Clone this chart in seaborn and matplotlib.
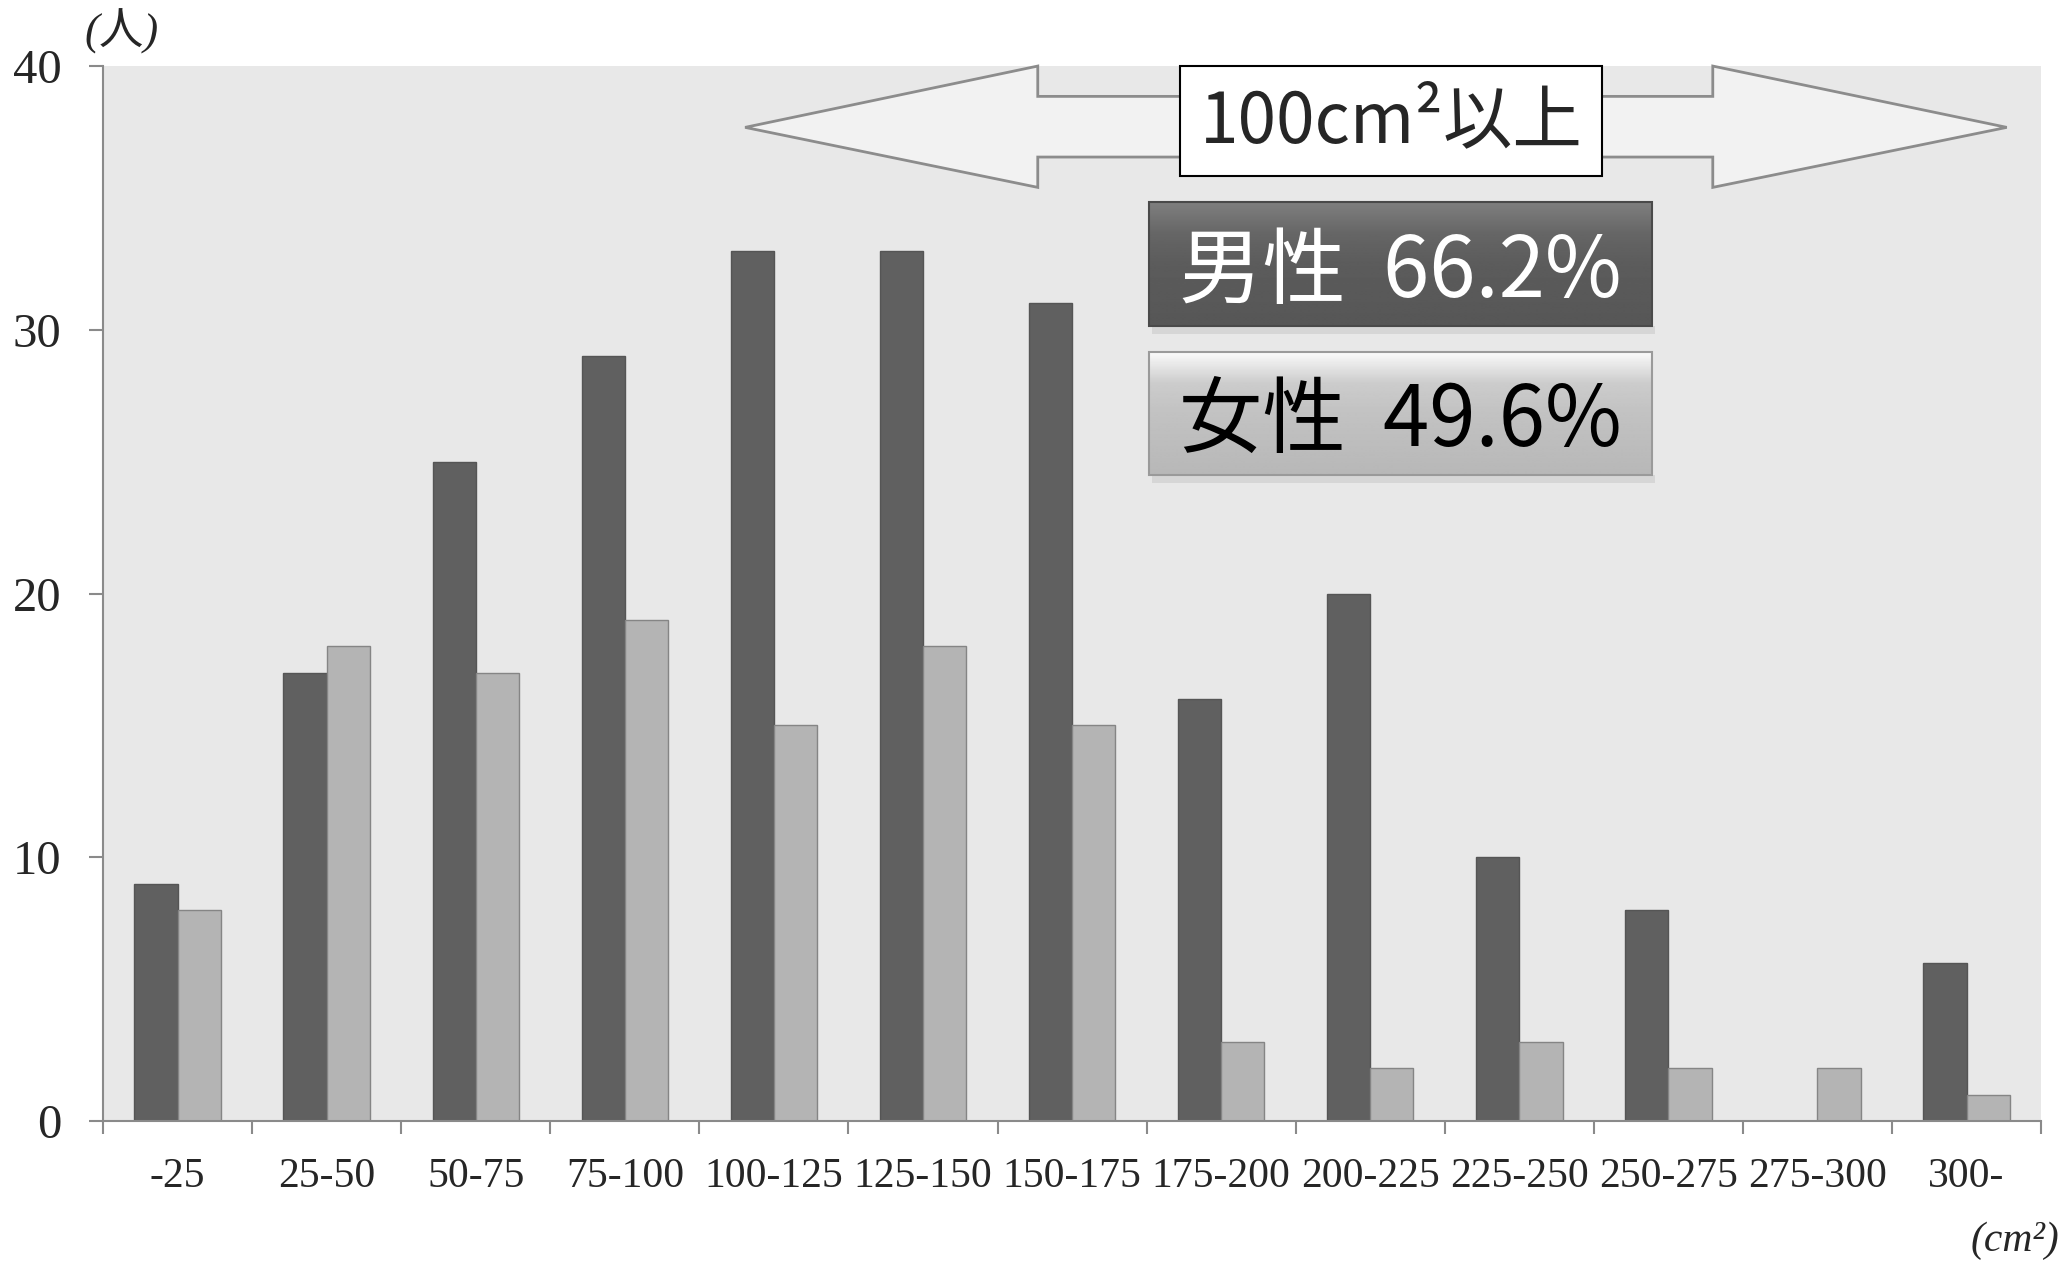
import numpy as np
import pandas as pd
import matplotlib.pyplot as plt
import seaborn as sns
from matplotlib.patches import Polygon, Rectangle
from matplotlib.ticker import FixedLocator

# data
categories = ['-25', '25-50', '50-75', '75-100', '100-125', '125-150', '150-175',
              '175-200', '200-225', '225-250', '250-275', '275-300', '300-']
male = [9, 17, 25, 29, 33, 33, 31, 16, 20, 10, 8, 0, 6]
female = [8, 18, 17, 19, 15, 18, 15, 3, 2, 3, 2, 2, 1]
y_ticks = [0, 10, 20, 30, 40]
banner_text = '100cm²以上'
male_text = '男性  66.2%'
female_text = '女性  49.6%'

df = pd.DataFrame({
    'cat': categories * 2,
    'count': male + female,
    'sex': ['男性'] * len(categories) + ['女性'] * len(categories),
})

sns.set_theme(style='white', rc={'axes.facecolor': '#e8e8e8'})
plt.rcParams['font.family'] = ['Liberation Serif', 'Noto Sans CJK JP', 'DejaVu Sans']

fig = plt.figure(figsize=(20.65, 12.63), dpi=100)
ax = fig.add_axes([0.0499, 0.1124, 0.9385, 0.8353])

sns.barplot(data=df, x='cat', y='count', hue='sex', order=categories,
            palette={'男性': '#606060', '女性': '#b4b4b4'}, width=0.58,
            edgecolor='#555555', linewidth=1, legend=False, ax=ax, zorder=2)
# lighter edge for the female bars
for patch in ax.containers[1]:
    patch.set_edgecolor('#858585')

ax.set_xlim(-0.5, len(categories) - 0.5)
ax.set_ylim(0, 40)
ax.set_yticks(y_ticks)
ax.set_xlabel('')
ax.set_ylabel('')

for side in ['top', 'right']:
    ax.spines[side].set_visible(False)
for side in ['left', 'bottom']:
    ax.spines[side].set_color('#8a8a8a')
    ax.spines[side].set_linewidth(1.5)

ax.tick_params(axis='y', which='major', length=10, width=1.5, color='#8a8a8a',
               direction='out', labelsize=35, pad=20, left=True)
ax.tick_params(axis='x', which='major', length=0, labelsize=30, pad=26)
ax.xaxis.set_minor_locator(FixedLocator(np.arange(-0.5, len(categories), 1.0)))
ax.tick_params(axis='x', which='minor', length=9, width=1.5, color='#8a8a8a',
               direction='out', bottom=True)

# double arrow
arrow = Polygon([(3.807, 37.675), (5.77, 40), (5.77, 38.85), (10.298, 38.85),
                 (10.298, 40), (12.27, 37.675), (10.298, 35.4), (10.298, 36.55),
                 (5.77, 36.55), (5.77, 35.4)], closed=True,
                facecolor='#f2f2f2', edgecolor='#8c8c8c', linewidth=2,
                zorder=3, clip_on=False)
ax.add_patch(arrow)

ax.add_patch(Rectangle((6.725, 35.85), 2.83, 4.15, facecolor='white',
                       edgecolor='black', linewidth=1.5, zorder=4, clip_on=False))
ax.text(8.14, 37.85, banner_text, ha='center', va='center', fontsize=50,
        family=['Noto Sans CJK JP', 'DejaVu Sans'], zorder=5)


def gradient_box(x0, x1, y0, y1, stops, edge):
    grad = np.interp(np.linspace(0, 1, 100), np.linspace(0, 1, len(stops)), stops)
    ax.imshow(grad.reshape(-1, 1), cmap='gray', vmin=0, vmax=1, aspect='auto',
              extent=(x0, x1, y0, y1), zorder=4, interpolation='bilinear')
    # soft shadow below
    ax.add_patch(Rectangle((x0 + 0.02, y0 - 0.3), x1 - x0, 0.3,
                           facecolor='#d6d6d6', edgecolor='none', zorder=3))
    ax.add_patch(Rectangle((x0, y0), x1 - x0, y1 - y0, facecolor='none',
                           edgecolor=edge, linewidth=1.5, zorder=5))


gradient_box(6.513, 9.891, 30.15, 34.85, [0.50, 0.40, 0.36, 0.35, 0.34], '#4a4a4a')
ax.text(8.2, 32.15, male_text, ha='center', va='center', fontsize=60, color='white',
        family=['Noto Sans CJK JP', 'DejaVu Sans'], zorder=6)

gradient_box(6.513, 9.891, 24.5, 29.15, [0.98, 0.80, 0.76, 0.74, 0.72], '#9a9a9a')
ax.text(8.2, 26.5, female_text, ha='center', va='center', fontsize=60, color='black',
        family=['Noto Sans CJK JP', 'DejaVu Sans'], zorder=6)

ax.set_xlim(-0.5, len(categories) - 0.5)
ax.set_ylim(0, 40)

# unit labels
fig.text(0.059, 0.975, '(人)', ha='center', va='center', fontsize=32, style='italic',
         family=['Liberation Serif', 'Noto Sans CJK JP'])
fig.text(0.997, 0.018, '(cm²)', ha='right', va='center', fontsize=30, style='italic',
         family=['Liberation Serif', 'DejaVu Serif'])

fig.savefig('out.png', dpi=100)
